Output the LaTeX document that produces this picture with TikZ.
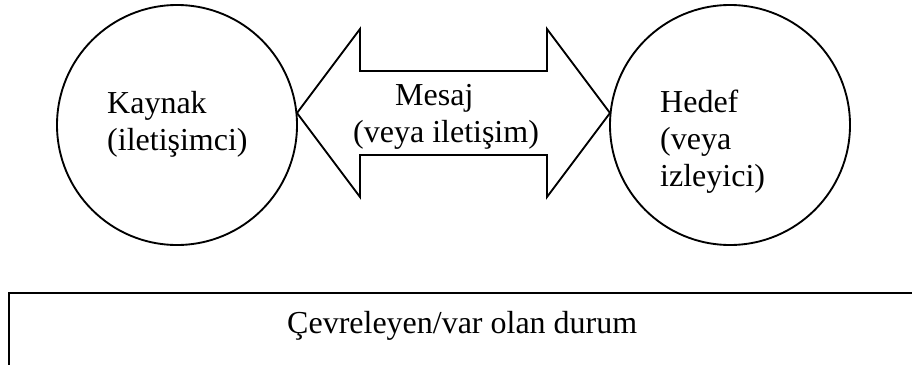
\documentclass[tikz,border=0pt]{standalone}
\usepackage{fontspec}
\setmainfont{Liberation Serif}
\usepackage{tikz}
\usetikzlibrary{positioning}

\begin{document}
\begin{tikzpicture}[x=0.3mm, y=-0.3mm,
		daire/.style={draw, circle, line width=1.6pt, minimum size=72mm, inner sep=0pt},
		yazi/.style={font=\fontsize{27.3}{31.5}\selectfont, align=left, inner sep=0pt},
		okcizgi/.style={line width=1.6pt, line join=miter}]
		\useasboundingbox (0,0) rectangle (912,364);
		\clip (0,0) rectangle (912,364);
		% Kaynak ve hedef daireleri
		\node[daire] (kaynak) at (177,125) {};
		\node[daire] (hedef) at (730,125) {};
		% metin düğümlerinde base = son satırın tabanı
		\node[yazi, anchor=base west] (kaynakyazi) at (107,150) {Kaynak\\(iletişimci)};
		\node[yazi, anchor=base west] (hedefyazi) at (660,186) {Hedef\\(veya\\izleyici)};
		% Çift yönlü mesaj oku
		\coordinate (soluc) at (297,113);
		\coordinate (saguc) at (610,113);
		\draw[okcizgi] (soluc) -- ++(63,-84) -- ++(0,42) -- ++(187,0) -- ++(0,-42) -- (saguc)
			-- ++(-63,84) -- ++(0,-42) -- ++(-187,0) -- ++(0,42) -- cycle;
		\node[yazi, anchor=base west] (mesaj) at (353,142) {\hspace*{12.6mm}Mesaj\\(veya iletişim)};
		% Çevreleyen durum kutusu
		\draw[line width=2.5pt] (9,400) -- (9,293) -- (950,293);
		\node[yazi, anchor=base west] (durum) at (287,333) {Çevreleyen/var olan durum};
	\end{tikzpicture}
\end{document}
